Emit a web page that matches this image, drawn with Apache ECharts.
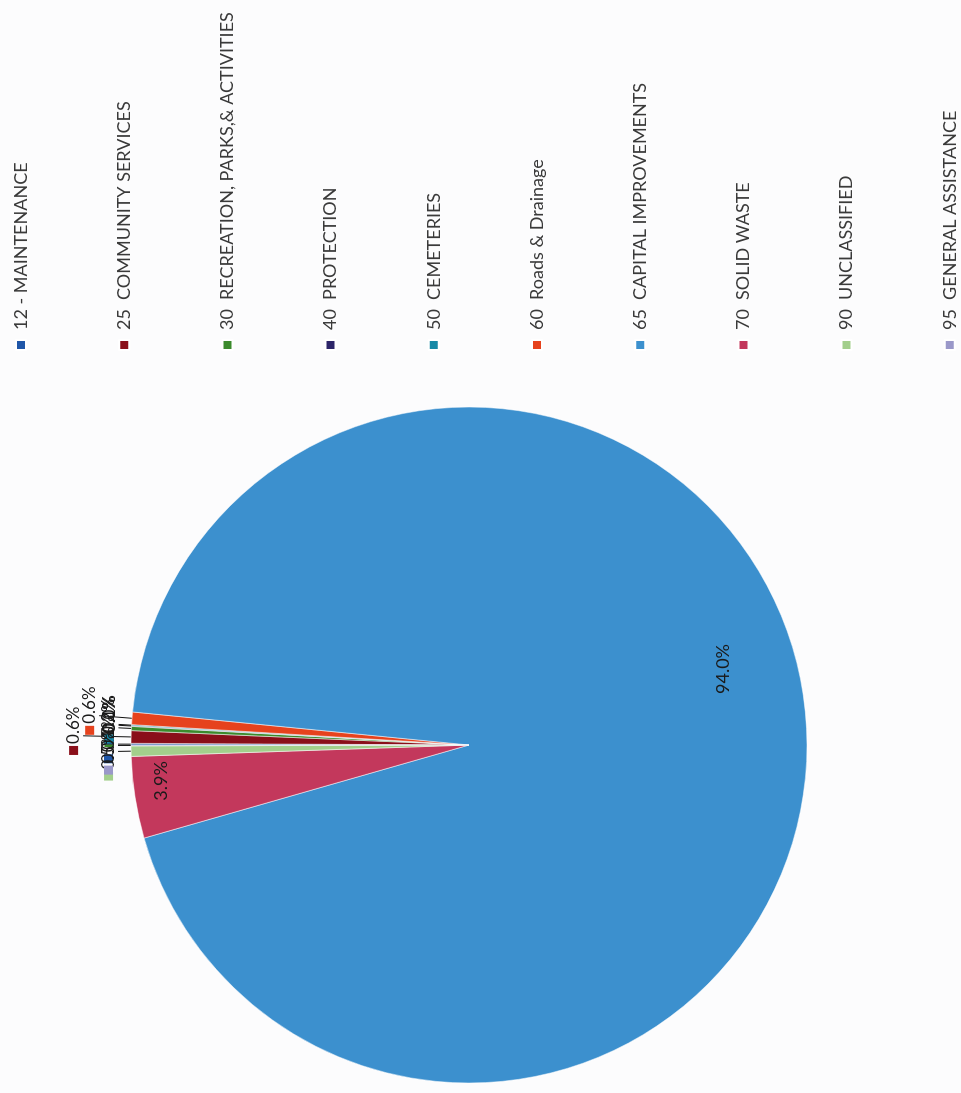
<!DOCTYPE html>
<html>
<head>
<meta charset="utf-8">
<script src="https://cdn.jsdelivr.net/npm/echarts@6/dist/echarts.min.js"></script>
<style>
  html, body { margin: 0; padding: 0; width: 961px; height: 1093px; overflow: hidden; background: #fcfcfd; }
  /* the page is laid out landscape and turned a quarter-turn counter-clockwise */
  #chart {
    position: absolute; left: 0; top: 0;
    width: 1093px; height: 961px;
    transform-origin: 0 0;
    transform: translateY(1093px) rotate(-90deg);
  }
</style>
</head>
<body>
<div id="chart"></div>
<script>
// Department budget shares (percent of total)
const categories = [
  '12 - MAINTENANCE',
  '25  COMMUNITY SERVICES',
  '30  RECREATION, PARKS,& ACTIVITIES',
  '40  PROTECTION',
  '50  CEMETERIES',
  '60  Roads & Drainage',
  '65  CAPITAL IMPROVEMENTS',
  '70  SOLID WASTE',
  '90  UNCLASSIFIED',
  '95  GENERAL ASSISTANCE'
];
const shares = [0.08, 0.6, 0.2, 0.03, 0.05, 0.6, 94.0, 3.9, 0.5, 0.04];
const colors = ['#1f56a8', '#8a0f1a', '#3b8a2c', '#2c2468', '#1889a6',
                '#e6421d', '#3c90ce', '#c3385c', '#a3cf8c', '#9a98c9'];

// percentages drawn inside the pie: [radial stretch of the default spot, turn in degrees]
const insideLabels = { 6: [1.54, -11.5], 7: [1.80, 2.3] };
// leader-line length for the small outside labels
const leaderLength = { 1: 48, 5: 33 };

const FONT = 'Lato, "Open Sans", sans-serif';
const chart = echarts.init(document.getElementById('chart'), null, { renderer: 'canvas' });

const CENTER = [348, 469];
const RADIUS = 338;

const rich = { t: { fontSize: 17, fontFamily: FONT, color: '#1a1a1a', padding: [0, 0, 0, 2] } };
colors.forEach((c, i) => {
  rich['k' + i] = { width: 9, height: 9, backgroundColor: c };
});

const data = categories.map((name, i) => {
  const item = { name: name, value: shares[i], itemStyle: { color: colors[i] } };
  if (insideLabels[i] !== undefined) {
    item.label = {
      position: 'inside',
      formatter: p => p.percent.toFixed(1) + '%',
      fontSize: 18, fontFamily: FONT, color: '#1a1a1a'
    };
    item.labelLine = { show: false };
  } else {
    item.labelLine = { length: leaderLength[i] !== undefined ? leaderLength[i] : 13 };
  }
  return item;
});

chart.setOption({
  backgroundColor: '#fcfcfd',
  animation: false,
  legend: {
    orient: 'vertical',
    left: 742,
    top: 12,
    height: 1000,
    padding: 0,
    itemWidth: 10,
    itemHeight: 10,
    itemGap: 85.2,
    icon: 'rect',
    textStyle: { fontSize: 18, fontFamily: FONT, color: '#3a3a3a', padding: [0, 0, 0, 5] },
    data: categories
  },
  series: [{
    type: 'pie',
    center: CENTER,
    radius: RADIUS,
    startAngle: 90,
    clockwise: true,
    avoidLabelOverlap: false,
    percentPrecision: 1,
    itemStyle: { borderColor: '#ffffff', borderWidth: 0.5 },
    label: {
      show: true,
      position: 'outside',
      formatter: p => '{k' + p.dataIndex + '|}{t|' + p.percent.toFixed(1) + '%}',
      rich: rich
    },
    labelLine: { show: true, length: 13, length2: 0, lineStyle: { color: '#111', width: 1 } },
    labelLayout: function (params) {
      const r = params.labelRect;
      const lx = r.x + r.width / 2;
      const ly = r.y + r.height / 2;
      const cfg = insideLabels[params.dataIndex];
      if (cfg === undefined) {
        // small slices: label sits centred above the end of its leader line
        const side = lx > CENTER[0] ? -1 : 1;
        return { dx: side * r.width / 2, dy: -r.height / 2 - 1 };
      }
      const vx = (lx - CENTER[0]) * cfg[0];
      const vy = (ly - CENTER[1]) * cfg[0];
      const a = cfg[1] * Math.PI / 180;
      const nx = CENTER[0] + vx * Math.cos(a) - vy * Math.sin(a);
      const ny = CENTER[1] + vx * Math.sin(a) + vy * Math.cos(a);
      return { dx: nx - lx, dy: ny - ly };
    },
    data: data
  }]
});
</script>
</body>
</html>
